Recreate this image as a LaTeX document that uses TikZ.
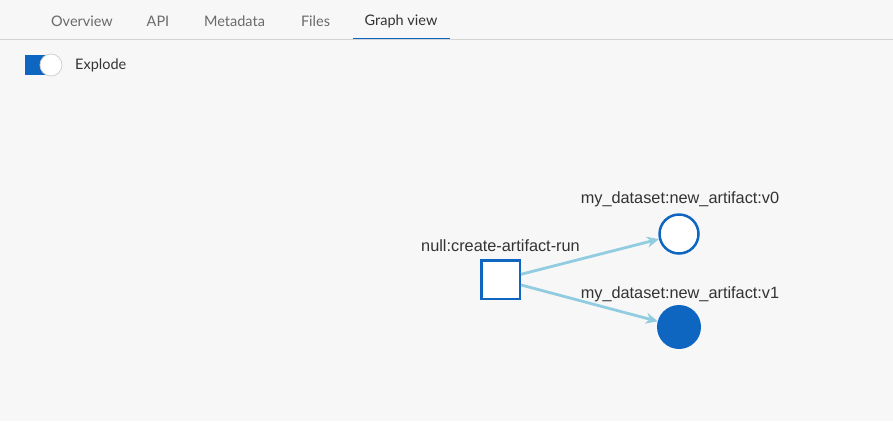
\documentclass[tikz,border=0pt]{standalone}
\usepackage{fontspec}
\setmainfont{Liberation Sans}
\newfontfamily\uifont{Lato}
\usetikzlibrary{arrows.meta}
\definecolor{bgc}{HTML}{F7F7F7}
\definecolor{wbblue}{HTML}{0E66C0}
\definecolor{edgec}{HTML}{92CCE0}
\definecolor{tabgray}{HTML}{6A6A6A}
\definecolor{tabdark}{HTML}{333333}
\definecolor{rulegray}{HTML}{D4D4D4}
\tikzset{
  tab/.style={font=\uifont\fontsize{14.5}{16}\selectfont, text=tabgray, inner sep=0pt, anchor=center},
  glabel/.style={font=\fontsize{16.3}{18}\selectfont, text=black!80, inner sep=0pt, anchor=center},
  runbox/.style={draw=wbblue, fill=white, line width=2.5pt, minimum size=38.5pt, inner sep=0pt, rectangle},
  artopen/.style={draw=wbblue, fill=white, line width=2.5pt, circle, minimum size=39pt, inner sep=0pt},
  artfull/.style={draw=wbblue, fill=wbblue, line width=2pt, circle, minimum size=42pt, inner sep=0pt},
  flow/.style={draw=edgec, line width=2.8pt, -{Stealth[length=12pt,width=11pt]}},
}
\begin{document}
\begin{tikzpicture}[x=1pt,y=-1pt]
\fill[bgc] (0,0) rectangle (893,421);
\useasboundingbox (0,0) rectangle (893,421);
% tabs
\node[tab] (t1) at (82,21) {Overview};
\node[tab] (t2) at (158,21) {API};
\node[tab] (t3) at (234.5,21) {Metadata};
\node[tab] (t4) at (315.5,21) {Files};
\node[tab, text=tabdark] (t5) at (401,21) {Graph view};
\draw[rulegray, line width=1pt] (0,39.5) -- (893,39.5);
\draw[wbblue, line width=1.5pt] (353,38.3) -- (450,38.3);
% toggle
\fill[wbblue] (25,55) rectangle (51,75);
\fill[wbblue] (35,65) circle (10);
\node[circle, fill=white, draw=black!18, line width=0.8pt, minimum size=22pt, inner sep=0pt] (knob) at (51,65) {};
\node[font=\uifont\fontsize{14.5}{16}\selectfont, text=tabdark, anchor=west, inner sep=0pt] (expl) at (75,65) {Explode};
% graph
\node[runbox] (run) at (500.5,279.5) {};
\node[artopen] (v0) at (679,234) {};
\node[artfull] (v1) at (679,327) {};
\node[glabel] (lrun) at (500.5,246) {null:create-artifact-run};
\node[glabel] (lv0) at (680,199) {my\_dataset:new\_artifact:v0};
\node[glabel] (lv1) at (680,294) {my\_dataset:new\_artifact:v1};
\draw[flow] (run) -- (v0);
\draw[flow] (run) -- (v1);
\end{tikzpicture}
\end{document}
